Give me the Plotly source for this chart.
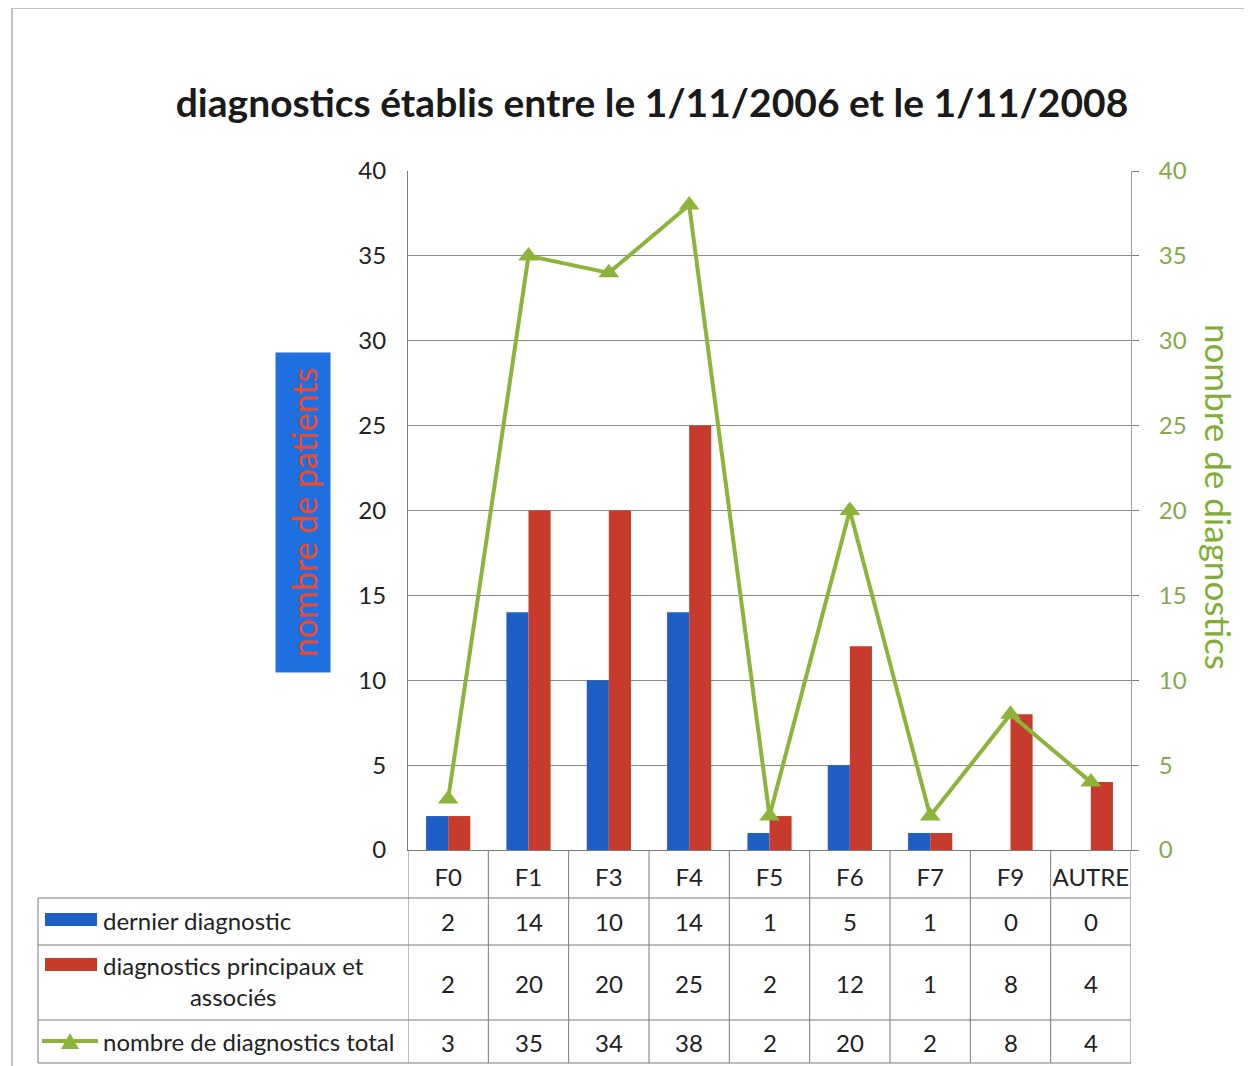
import plotly.graph_objects as go

categories = ["F0", "F1", "F3", "F4", "F5", "F6", "F7", "F9", "AUTRE"]
dernier = [2, 14, 10, 14, 1, 5, 1, 0, 0]
principaux = [2, 20, 20, 25, 2, 12, 1, 8, 4]
total = [3, 35, 34, 38, 2, 20, 2, 8, 4]
series_names = ["dernier diagnostic", "diagnostics principaux et<br>associés", "nombre de diagnostics total"]
y_ticks = [0, 5, 10, 15, 20, 25, 30, 35, 40]

W, H = 1252, 1066
OFF = 8  # page body margin
BLUE = "#1f5fc4"
RED = "#c63b2b"
GREEN = "#8cb43a"
FONT = "Lato"
TXT = 24

def px(x):
    return (x - OFF) / W

def py(y):
    return 1 - (y - OFF) / H

fig = go.Figure()
fig.add_trace(go.Bar(x=categories, y=dernier, name=series_names[0], marker_color=BLUE,
                     marker_line_width=0, yaxis="y"))
fig.add_trace(go.Bar(x=categories, y=principaux, name=series_names[1], marker_color=RED,
                     marker_line_width=0, yaxis="y"))
fig.add_trace(go.Scatter(x=categories, y=total, name=series_names[2], mode="lines+markers",
                         line=dict(color=GREEN, width=4),
                         marker=dict(symbol="triangle-up", size=18, color=GREEN),
                         yaxis="y2"))

shapes = []
ann = []
LINE = dict(color="#7a7a7a", width=1)

# outer border
shapes.append(dict(type="rect", xref="paper", yref="paper", x0=px(12), x1=px(1247), y0=py(1080), y1=py(8),
                   line=dict(color="#b0b0b0", width=1.5)))

# table row lines
row_y = [850, 898, 945, 1020, 1063]
for yy in row_y[1:]:
    shapes.append(dict(type="line", xref="paper", yref="paper", x0=px(38), x1=px(1131), y0=py(yy), y1=py(yy), line=LINE))
shapes.append(dict(type="line", xref="paper", yref="paper", x0=px(38), x1=px(38), y0=py(898), y1=py(1063), line=LINE))
# vertical separators between categories
for i in range(len(categories) + 1):
    shapes.append(dict(type="line", xref="x", yref="paper", x0=i - 0.5, x1=i - 0.5,
                       y0=py(850), y1=py(1063), line=LINE))

# table values
row_centers = [921, 983, 1042]
for vals, yc in zip([dernier, principaux, total], row_centers):
    for c, v in zip(categories, vals):
        ann.append(dict(x=c, xref="x", y=py(yc), yref="paper", text=str(v), showarrow=False,
                        xanchor="center", yanchor="middle",
                        font=dict(family=FONT, size=TXT, color="#222")))

# legend cells
shapes.append(dict(type="rect", xref="paper", yref="paper", x0=px(45), x1=px(97), y0=py(926), y1=py(913),
                   fillcolor=BLUE, line=dict(width=0)))
shapes.append(dict(type="rect", xref="paper", yref="paper", x0=px(45), x1=px(97), y0=py(971), y1=py(958),
                   fillcolor=RED, line=dict(width=0)))
shapes.append(dict(type="line", xref="paper", yref="paper", x0=px(42), x1=px(98), y0=py(1041), y1=py(1041),
                   line=dict(color=GREEN, width=4)))
shapes.append(dict(type="path", xref="paper", yref="paper",
                   path=f"M {px(61)},{py(1049)} L {px(79)},{py(1049)} L {px(70)},{py(1033)} Z",
                   fillcolor=GREEN, line=dict(width=0)))
ann.append(dict(x=px(101), y=py(920), xref="paper", yref="paper", text=series_names[0], showarrow=False,
                xanchor="left", yanchor="middle", font=dict(family=FONT, size=TXT, color="#222")))
ann.append(dict(x=px(233), y=py(981), xref="paper", yref="paper", text=series_names[1], showarrow=False,
                xanchor="center", yanchor="middle", align="center",
                font=dict(family=FONT, size=TXT, color="#222")))
ann.append(dict(x=px(101), y=py(1041), xref="paper", yref="paper", text=series_names[2], showarrow=False,
                xanchor="left", yanchor="middle", font=dict(family=FONT, size=TXT, color="#222")))

# axis titles
ann.append(dict(x=px(303), y=py(513), xref="paper", yref="paper", text="nombre de patients", showarrow=False,
                xanchor="center", yanchor="middle",
                textangle=-90, bgcolor="#1e6fe0", width=317, height=52,
                font=dict(family=FONT, size=34, color="#ef4a2c")))
ann.append(dict(x=px(1219), y=py(497), xref="paper", yref="paper", text="nombre de diagnostics", showarrow=False,
                xanchor="center", yanchor="middle",
                textangle=90, font=dict(family=FONT, size=35, color="#7fae35")))

fig.update_layout(
    width=W, height=H,
    margin=dict(l=0, r=0, t=0, b=0, autoexpand=False),
    paper_bgcolor="white", plot_bgcolor="white",
    showlegend=False,
    barmode="group", bargap=0.45, bargroupgap=0,
    title=dict(text="<b>diagnostics établis entre le 1/11/2006 et le 1/11/2008</b>",
               x=px(652), xanchor="center", y=py(103), yanchor="middle",
               font=dict(family=FONT, size=39, color="#1a1a1a")),
    xaxis=dict(domain=[px(408), px(1131)], range=[-0.5, len(categories) - 0.5],
               showgrid=False, showline=True, linecolor="#7a7a7a",
               automargin=False,
               ticks="", tickfont=dict(family=FONT, size=TXT, color="#222"), ticklabelstandoff=6),
    yaxis=dict(domain=[py(850), py(171)], range=[0, 40], tickvals=y_ticks, showgrid=True,
               automargin=False,
               gridcolor="#8a8a8a", gridwidth=1, zeroline=False, showline=True, linecolor="#7a7a7a",
               ticks="", ticklabelstandoff=16, tickfont=dict(family=FONT, size=TXT, color="#222")),
    yaxis2=dict(overlaying="y", side="right", range=[0, 40], tickvals=y_ticks, showgrid=False,
                automargin=False,
                zeroline=False, showline=True, linecolor="#9a9a9a", ticks="outside", ticklen=7,
                tickcolor="#7a7a7a", ticklabelstandoff=15,
                tickfont=dict(family=FONT, size=TXT, color="#86a84a")),
    shapes=shapes, annotations=ann,
)

fig.write_html("out.html")
